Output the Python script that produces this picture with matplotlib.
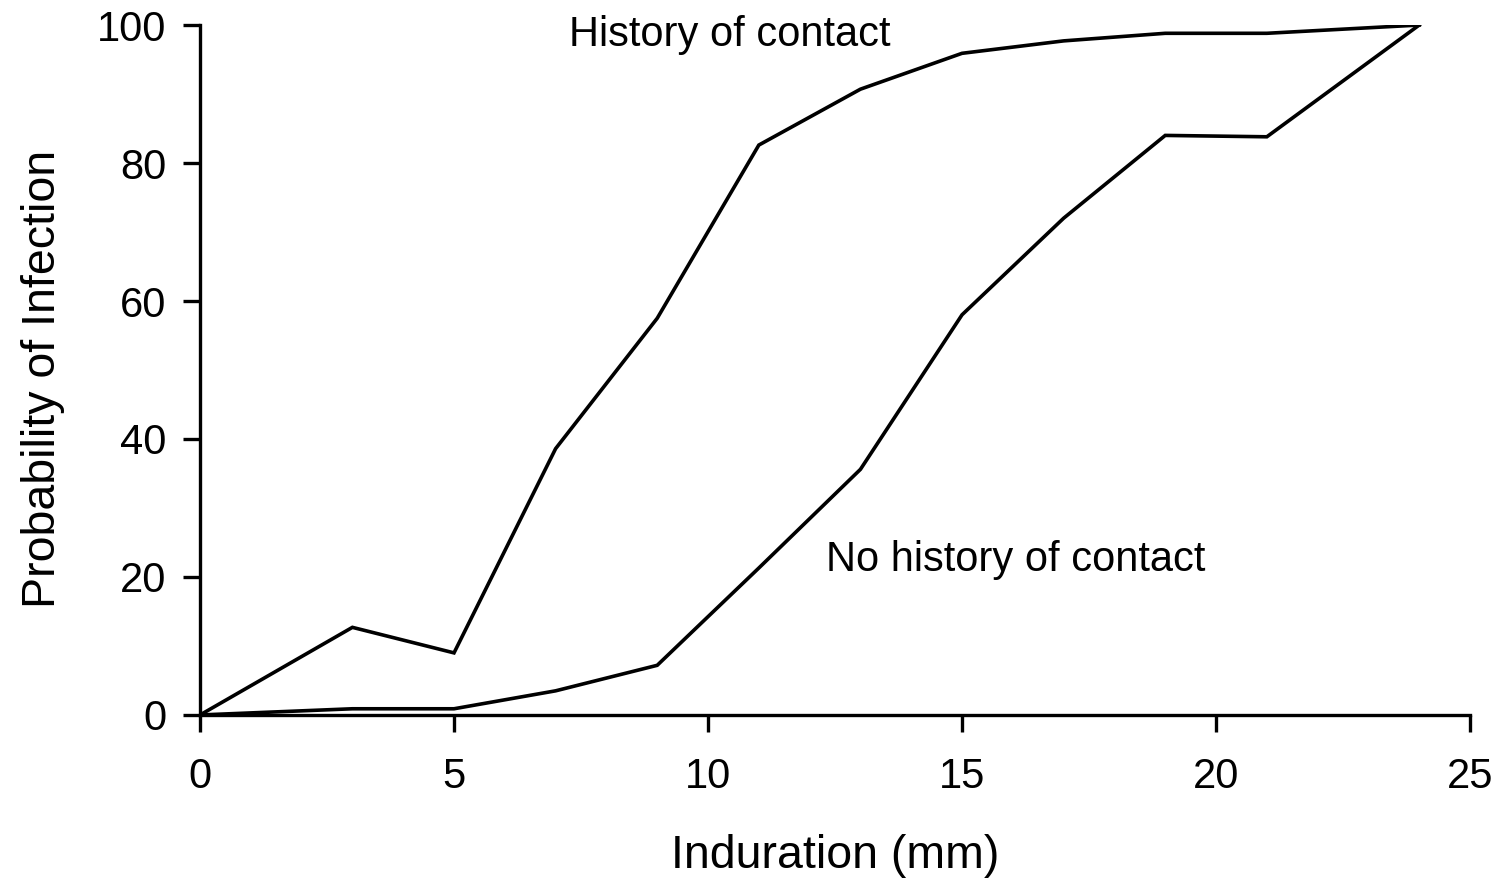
import matplotlib
matplotlib.use("Agg")
import matplotlib.pyplot as plt

plt.rcParams["font.family"] = ["Liberation Sans", "DejaVu Sans"]

# induration (mm) and probability of infection (%)
induration = [0, 3, 5, 7, 9, 11, 13, 15, 17, 19, 21, 24]
history_contact = [0, 12.7, 9.0, 38.6, 57.5, 82.6, 90.7, 95.9, 97.7, 98.8, 98.8, 100]
no_history_contact = [0, 0.9, 0.9, 3.5, 7.2, 21.3, 35.6, 58.0, 72.0, 84.0, 83.8, 100]

fig = plt.figure(figsize=(14.97, 8.84), dpi=100)
ax = fig.add_axes([0.1336, 0.1912, 0.8484, 0.7805])

ax.plot(induration, history_contact, color="black", lw=2.6, solid_joinstyle="miter")
ax.plot(induration, no_history_contact, color="black", lw=2.6, solid_joinstyle="miter")

ax.set_xlim(0, 25)
ax.set_ylim(0, 100)
ax.set_xticks([0, 5, 10, 15, 20, 25])
ax.set_yticks([0, 20, 40, 60, 80, 100])

for s in ["top", "right"]:
    ax.spines[s].set_visible(False)
for s in ["left", "bottom"]:
    ax.spines[s].set_linewidth(2.4)
ax.tick_params(direction="out", length=12, width=2.4, labelsize=30, pad=12)
ax.tick_params(axis="x", pad=18)

ax.set_xlabel("Induration (mm)", fontsize=33.5, labelpad=27)
ax.set_ylabel("Probability of Infection", fontsize=33.5)
ax.yaxis.set_label_coords(-0.106, 0.487)

ax.text(10.43, 98.5, "History of contact", fontsize=30, ha="center", va="center")
ax.text(16.06, 22.5, "No history of contact", fontsize=30, ha="center", va="center")

fig.savefig("out.png", dpi=100)
